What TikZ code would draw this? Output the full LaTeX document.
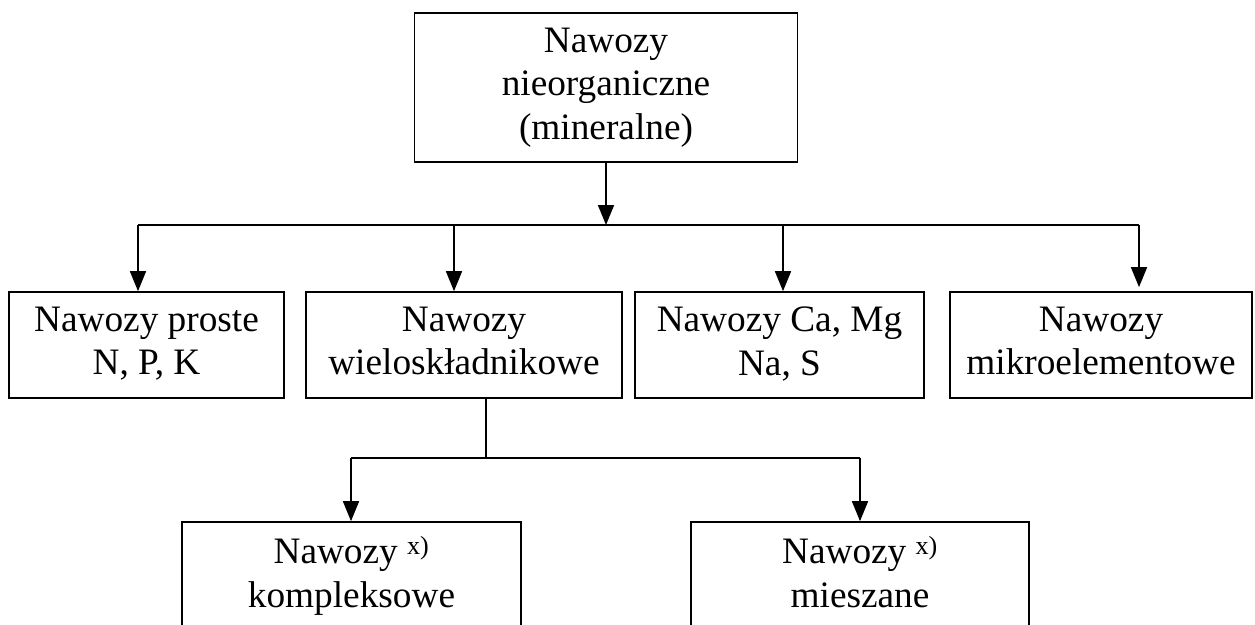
\documentclass[tikz,border=0pt]{standalone}
\usepackage{fontspec}
\setmainfont{Liberation Serif}
\usepackage{tikz}
\usetikzlibrary{arrows.meta}

\begin{document}
\begin{tikzpicture}[
  x=1pt, y=-1pt,
  catbox/.style={draw, line width=1.7pt, inner sep=0pt, align=center,
    font=\fontsize{37.3pt}{43.5pt}\selectfont},
  link/.style={line width=1.7pt},
  linkarr/.style={line width=1.7pt, -{Triangle[length=20pt, width=16pt]}}
]
\useasboundingbox (0,0) rectangle (1255,624);
% top level
\node[catbox, minimum width=383pt, minimum height=149pt] (top) at (606,87.5)
  {Nawozy\\nieorganiczne\\(mineralne)};
% second row
\node[catbox, minimum width=275pt, minimum height=106pt] (b1) at (146.5,345)
  {Nawozy proste\\N, P, K\vphantom{p}};
\node[catbox, minimum width=316pt, minimum height=106pt] (b2) at (464,345)
  {Nawozy\\wieloskładnikowe\vphantom{p}};
\node[catbox, minimum width=289pt, minimum height=106pt] (b3) at (779.5,345)
  {Nawozy Ca, Mg\\Na, S\vphantom{p}};
\node[catbox, minimum width=302pt, minimum height=106pt] (b4) at (1101,345)
  {Nawozy\\mikroelementowe\vphantom{p}};
% third row
\node[catbox, minimum width=339pt, minimum height=108pt] (c1) at (351.5,576)
  {Nawozy \textsuperscript{x)}\\kompleksowe};
\node[catbox, minimum width=338pt, minimum height=108pt] (c2) at (860,576)
  {Nawozy \textsuperscript{x)}\\mieszane\vphantom{p}};
% bus below the top box
\coordinate (busL) at (138,225);
\coordinate (busA) at (454,225);
\coordinate (busB) at (783,225);
\coordinate (busR) at (1139,225);
\draw[linkarr] (top.south) -- (top.south |- busL);
\draw[link] (busL) -- (busR);
\draw[linkarr] (busL) -- (busL |- b1.north);
\draw[linkarr] (busA) -- (busA |- b2.north);
\draw[linkarr] (busB) -- (busB |- b3.north);
\draw[linkarr] (busR) -- ([yshift=4pt]busR |- b4.north);
% split below the second box
\coordinate (split) at (486,458);
\coordinate (splitL) at (351,458);
\coordinate (splitR) at (860,458);
\draw[link] (b2.south -| split) -- (split);
\draw[link] (splitL) -- (splitR);
\draw[linkarr] (splitL) -- (splitL |- c1.north);
\draw[linkarr] (splitR) -- (splitR |- c2.north);
\end{tikzpicture}
\end{document}
